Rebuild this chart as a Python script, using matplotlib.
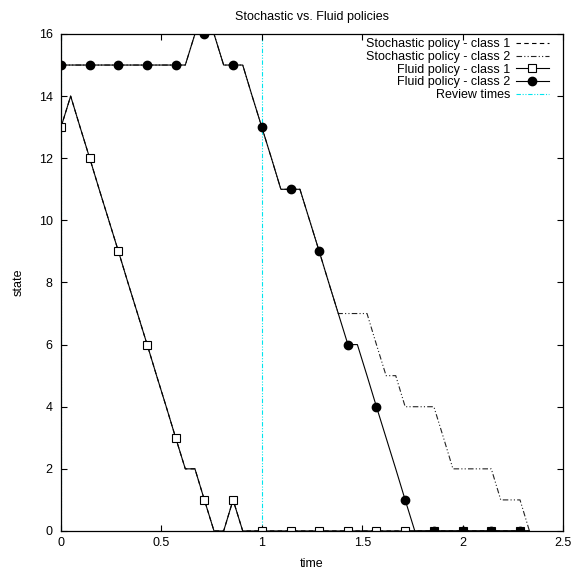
import matplotlib
matplotlib.use("Agg")
import matplotlib.pyplot as plt

plt.rcParams['font.family'] = ['Liberation Sans', 'DejaVu Sans']

# time grid (step ~ 1/21)
time = [0.000, 0.048, 0.095, 0.143, 0.190, 0.238, 0.286, 0.333, 0.381, 0.429,
        0.476, 0.524, 0.571, 0.619, 0.667, 0.714, 0.762, 0.810, 0.857, 0.905,
        0.952, 1.000, 1.048, 1.095, 1.143, 1.190, 1.238, 1.286, 1.333, 1.381,
        1.429, 1.476, 1.524, 1.571, 1.619, 1.667, 1.714, 1.762, 1.810, 1.857,
        1.905, 1.952, 2.000, 2.048, 2.095, 2.143, 2.190, 2.238, 2.286, 2.333]

fluid_class1 = [13, 14, 13, 12, 11, 10, 9, 8, 7, 6,
                5, 4, 3, 2, 2, 1, 0, 0, 1, 0,
                0, 0, 0, 0, 0, 0, 0, 0, 0, 0,
                0, 0, 0, 0, 0, 0, 0, 0, 0, 0,
                0, 0, 0, 0, 0, 0, 0, 0, 0, 0]

fluid_class2 = [15, 15, 15, 15, 15, 15, 15, 15, 15, 15,
                15, 15, 15, 15, 16, 16, 16, 15, 15, 15,
                14, 13, 12, 11, 11, 11, 10, 9, 8, 7,
                6, 6, 5, 4, 3, 2, 1, 0, 0, 0,
                0, 0, 0, 0, 0, 0, 0, 0, 0, 0]

stoch_class1 = list(fluid_class1)

stoch_class2 = [15, 15, 15, 15, 15, 15, 15, 15, 15, 15,
                15, 15, 15, 15, 16, 16, 16, 15, 15, 15,
                14, 13, 12, 11, 11, 11, 10, 9, 8, 7,
                7, 7, 7, 6, 5, 5, 4, 4, 4, 4,
                3, 2, 2, 2, 2, 2, 1, 1, 1, 0]

review_times = [0.0, 1.0]

x_ticks = [0, 0.5, 1, 1.5, 2, 2.5]
x_ticklabels = ['0', '0.5', '1', '1.5', '2', '2.5']
y_ticks = [0, 2, 4, 6, 8, 10, 12, 14, 16]

fig = plt.figure(figsize=(5.74, 5.71), dpi=100)
ax = fig.add_axes([0.1063, 0.0701, 0.8745, 0.8704])

lw = 0.8
ax.plot(time, stoch_class1, color='black', lw=lw, ls=(0, (4, 3)),
        label='Stochastic policy - class 1', zorder=2)
ax.plot(time, stoch_class2, color='#222222', lw=lw, ls=(0, (5, 2, 1, 2, 1, 2)),
        label='Stochastic policy - class 2', zorder=2)
ax.plot(time, fluid_class1, color='black', lw=lw, marker='s', markevery=3,
        markersize=5.2, markerfacecolor='white', markeredgecolor='black',
        markeredgewidth=0.8, label='Fluid policy - class 1', zorder=3)
ax.plot(time, fluid_class2, color='black', lw=lw, marker='o', markevery=3,
        markersize=6, markerfacecolor='black', markeredgecolor='black',
        label='Fluid policy - class 2', zorder=4)
for i, rt in enumerate(review_times):
    ax.axvline(rt, color='#00e5ee', lw=lw, ls=(0, (4, 1.5, 1, 1.5, 1, 1.5)),
               zorder=1, label='Review times' if i == 0 else None)

ax.set_xlim(0, 2.5)
ax.set_ylim(0, 16)
ax.set_xticks(x_ticks)
ax.set_xticklabels(x_ticklabels)
ax.set_yticks(y_ticks)
ax.tick_params(direction='in', top=True, right=True, length=4, width=0.8,
               labelsize=9, colors='black')
ax.tick_params(axis='y', pad=6)
ax.tick_params(axis='x', pad=4)
for s in ax.spines.values():
    s.set_linewidth(0.9)
    s.set_zorder(5)

ax.set_title('Stochastic vs. Fluid policies', fontsize=9, pad=10)
ax.set_xlabel('time', fontsize=9, labelpad=7)
ax.set_ylabel('state', fontsize=9, labelpad=10)

leg = ax.legend(loc='upper right', bbox_to_anchor=(0.984, 1.004),
                frameon=False, markerfirst=False,
                fontsize=9, handlelength=2.6, handletextpad=0.5,
                labelspacing=0.06, borderaxespad=0.3, borderpad=0.2)

fig.savefig('out.png', dpi=100)
